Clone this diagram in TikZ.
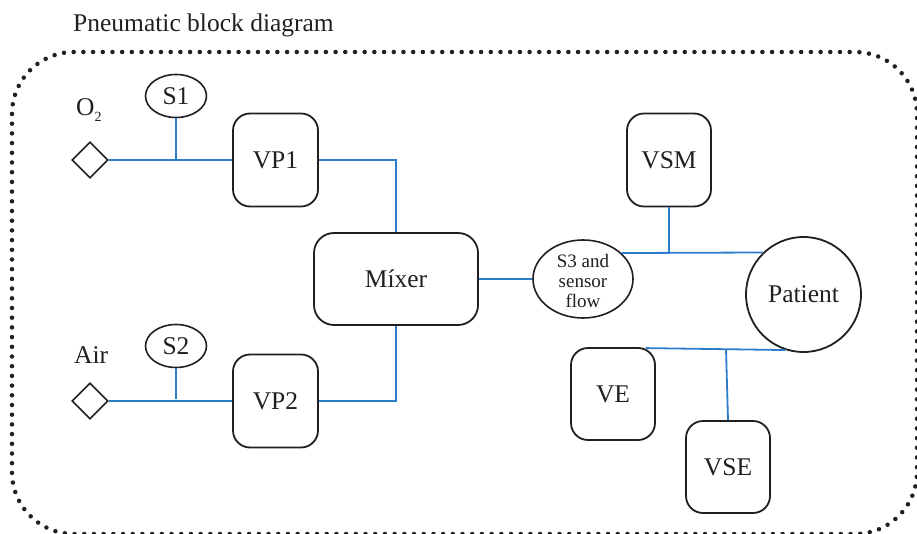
\documentclass[tikz,border=0pt]{standalone}
\usepackage{fontspec}
\setmainfont{Liberation Serif}
\usetikzlibrary{shapes.geometric,calc}
\definecolor{ink}{HTML}{231F20}
\definecolor{pipec}{RGB}{45,125,205}
\newcommand\lbl{\fontsize{25.5}{30}\selectfont}
\tikzset{
  box/.style={draw=ink, line width=1.8pt, rounded corners=17pt, minimum width=85pt, minimum height=93pt, inner sep=0pt, font=\lbl, text=ink},
  sens/.style={ellipse, draw=ink, line width=1.6pt, minimum width=61pt, minimum height=43pt, inner sep=0pt, font=\lbl, text=ink},
  inlet/.style={diamond, draw=ink, line width=1.6pt, minimum width=36pt, minimum height=36pt, inner sep=0pt},
  pipe/.style={draw=pipec, line width=1.8pt},
  frame/.style={draw=ink, line width=4.5pt, line cap=round, dash pattern=on 0pt off 9.7pt, rounded corners=62pt},
  txt/.style={inner sep=0pt, font=\lbl, text=ink}
}
\begin{document}
\begin{tikzpicture}[x=1pt,y=-1pt]
\useasboundingbox (0,0) rectangle (917,534);
\fill[white] (0,0) rectangle (917,534);
\draw[frame] (12,52) rectangle (917,534);
\node[txt, anchor=base west] (title) at (73,32) {Pneumatic block diagram};
% left inlets
\node[txt, anchor=base west] (o2) at (76,116) {O\raisebox{-6pt}{\fontsize{14}{14}\selectfont 2}};
\node[txt, anchor=base west] (air) at (74,363) {Air};
\node[inlet] (d1) at (90,160) {};
\node[inlet] (d2) at (90,401) {};
\node[sens] (s1) at (176,96) {S1};
\node[sens] (s2) at (176,346) {S2};
\node[box] (vp1) at (275.5,160) {VP1};
\node[box] (vp2) at (275.5,401) {VP2};
\node[box, minimum width=164pt, minimum height=92pt, rounded corners=20pt] (mix) at (396,279) {Míxer};
\node[sens, minimum width=100pt, minimum height=78pt] (s3) at (583,279) {};
\node[inner sep=0pt, align=center, text=ink, font=\fontsize{19}{20}\selectfont] (s3t) at (583,281) {S3 and\\sensor\\flow};
\node[box, minimum width=84pt] (vsm) at (669,160) {VSM};
\node[circle, draw=ink, line width=1.8pt, minimum size=115pt, inner sep=0pt, font=\lbl, text=ink] (pat) at (803.5,294.5) {Patient};
\node[box, minimum width=84pt, minimum height=92pt] (ve) at (613,394) {VE};
\node[box, minimum width=84pt, minimum height=92pt] (vse) at (728,467) {VSE};
% pipes
\draw[pipe] (d1.east) -- (vp1.west);
\draw[pipe] (s1.south) -- (s1.south |- d1.east);
\draw[pipe] (vp1.east) -| (mix.north);
\draw[pipe] (d2.east) -- (vp2.west);
\draw[pipe] (s2.south) -- ($(s2.south |- d2.east)+(0,-2)$);
\draw[pipe] (vp2.east) -| (mix.south);
\draw[pipe] (mix.east) -- (s3.west);
\draw[pipe] (s3.34) -- (pat.134);
\draw[pipe] (vsm.south) -- (vsm.south |- s3.34);
\coordinate (vej) at ($(ve.north east)+(-10,1)$);
\draw[pipe] (vej) -- (pat.252);
\coordinate (j2) at (726,349);
\draw[pipe] (vse.north) -- (j2);
\end{tikzpicture}
\end{document}
